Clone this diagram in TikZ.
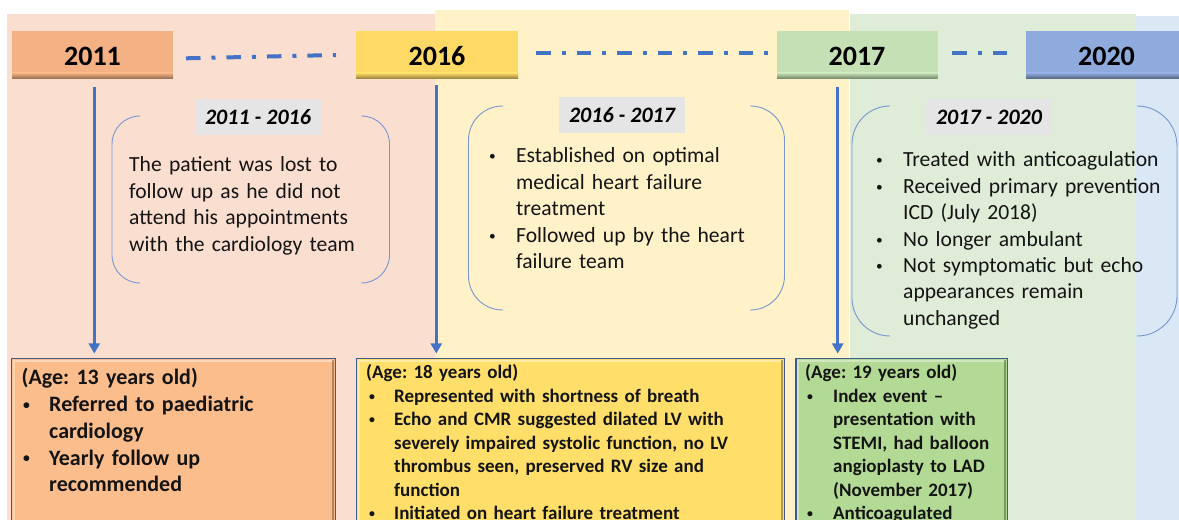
\documentclass[tikz,border=0pt]{standalone}
\usepackage{fontspec}
\setmainfont{Carlito}
\usetikzlibrary{arrows.meta}
\definecolor{bandA}{HTML}{FADFD1}
\definecolor{bandB}{HTML}{FFF1C8}
\definecolor{bandC}{HTML}{DFECD7}
\definecolor{bandD}{HTML}{DAE7F5}
\definecolor{yA}{HTML}{F4B183}
\definecolor{yAd}{HTML}{8D6A4D}
\definecolor{yB}{HTML}{FFD966}
\definecolor{yBd}{HTML}{8F7A3A}
\definecolor{yC}{HTML}{C5E0B4}
\definecolor{yCd}{HTML}{6F7F66}
\definecolor{yD}{HTML}{8FAADC}
\definecolor{yDd}{HTML}{4F6079}
\definecolor{boxA}{HTML}{FBBD8B}
\definecolor{boxB}{HTML}{FFDF69}
\definecolor{boxC}{HTML}{B3DA94}
\definecolor{blueline}{HTML}{4472C4}
\definecolor{bracket}{HTML}{7896D2}
\definecolor{graylab}{HTML}{E5E5E5}
\definecolor{boxborder}{HTML}{3F5A8E}
\definecolor{txt}{HTML}{141414}
\newcommand\bulmark{\raisebox{0.1em}{\scalebox{0.62}{•}}}
\newcommand\bulfirst[2]{\noindent\hangindent=#1\hangafter=1\makebox[#1][l]{\hspace{#2}\bulmark}}
\newcommand\bul[2]{\par\bulfirst{#1}{#2}}
\begin{document}
\frenchspacing
\begin{tikzpicture}[x=1bp,y=-1bp,
  yeartext/.style={inner sep=0, font=\fontsize{28bp}{30bp}\selectfont\bfseries, text=black},
  periodlab/.style={fill=graylab, minimum width=126bp, minimum height=36bp, inner sep=0,
    font=\fontsize{22bp}{24bp}\selectfont\bfseries\itshape, text=black},
  bracketline/.style={draw=bracket, line width=0.9bp},
  dashdot/.style={blueline, line width=4bp, dash pattern=on 14.5bp off 11bp on 4bp off 11bp},
  timearrow/.style={blueline, line width=3bp, -{Triangle[width=11bp,length=10bp]}},
  midtext/.style={anchor=base west, inner sep=0, text width=300bp, align=left,
    font=\fontsize{21.6bp}{26.4bp}\selectfont\frenchspacing, text=txt},
  bigbox/.style={anchor=base west, inner sep=0, text width=320bp, align=left,
    font=\fontsize{22bp}{26.7bp}\selectfont\bfseries\frenchspacing, text=txt},
  smallbox/.style={anchor=base west, inner sep=0, text width=420bp, align=left,
    font=\fontsize{19bp}{23.4bp}\selectfont\bfseries\frenchspacing, text=txt},
  evbox/.style={line width=1.5bp, draw=boxborder}
]
\useasboundingbox (0,0) rectangle (1179,520);
\clip (0,0) rectangle (1179,520);
\fill[white] (0,0) rectangle (1179,520);
% background bands
\fill[bandA] (7,14) rectangle (434.7,520);
\fill[bandB] (434.7,10) rectangle (849,520);
\fill[bandC] (850,14.5) rectangle (1136,520);
\fill[bandD] (1136,16) rectangle (1179,520);

% year boxes
\fill[yA] (12,31) rectangle (173,79);
\shade[top color=yA, bottom color=yAd] (12,73) rectangle (173,79);
\node[yeartext] (y2011) at (92.5,56) {2011};
\fill[yB] (356,31) rectangle (518,79);
\shade[top color=yB, bottom color=yBd] (356,73) rectangle (518,79);
\node[yeartext] (y2016) at (437,56) {2016};
\fill[yC] (777,31) rectangle (937.5,79);
\shade[top color=yC, bottom color=yCd] (777,73) rectangle (937.5,79);
\node[yeartext] (y2017) at (857,56) {2017};
\fill[yD] (1026,31) rectangle (1187,79);
\shade[top color=yD, bottom color=yDd] (1026,73) rectangle (1187,79);
\node[yeartext] (y2020) at (1106.5,56) {2020};

% dash-dot connectors
\coordinate (d1a) at (186,58.3);
\coordinate (d1b) at (336,55);
\coordinate (d2a) at (536,52.7);
\coordinate (d2b) at (768,52.7);
\coordinate (d3a) at (952,52.7);
\coordinate (d3b) at (1007,52.7);
\draw[dashdot] (d1a) -- (d1b);
\draw[dashdot] (d2a) -- (d2b);
\draw[dashdot] (d3a) -- (d3b);

% brackets
\draw[bracketline, rounded corners=28bp] (140,116) -- (112,116) -- (112,283) -- (140,283);
\draw[bracketline, rounded corners=28bp] (361.5,116) -- (389.5,116) -- (389.5,283) -- (361.5,283);
\draw[bracketline, rounded corners=34bp] (503,106) -- (468.5,106) -- (468.5,310) -- (503,310);
\draw[bracketline, rounded corners=34bp] (750,106) -- (784.5,106) -- (784.5,310) -- (750,310);
\draw[bracketline, rounded corners=38bp] (890,106) -- (852,106) -- (852,336) -- (890,336);
\draw[bracketline, rounded corners=40bp] (1137,106) -- (1177,106) -- (1177,336) -- (1137,336);

% period labels
\node[periodlab] (p1) at (258,117) {2011 - 2016};
\node[periodlab] (p2) at (622,115) {2016 - 2017};
\node[periodlab] (p3) at (989,117.5) {2017 - 2020};

% period texts
\node[midtext] (m1) at (129,172) {The patient was lost to\newline follow up as he did not\newline attend his appointments\newline with the cardiology team};
\node[midtext] (m2) at (489,163) {\bulfirst{27bp}{0bp}Established on optimal\newline medical heart failure\newline treatment\bul{27bp}{0bp}Followed up by the heart\newline failure team\par};
\node[midtext] (m3) at (876,167) {\bulfirst{27bp}{0bp}Treated with anticoagulation\bul{27bp}{0bp}Received primary prevention\newline ICD (July 2018)\bul{27bp}{0bp}No longer ambulant\bul{27bp}{0bp}Not symptomatic but echo\newline appearances remain\newline unchanged\par};

% event boxes
\fill[boxA] (11.7,358.3) rectangle (335.7,540);
\draw[white, opacity=0.4, line width=2bp] (13.8,540) -- (13.8,360.6) -- (333.5,360.6);
\draw[black, opacity=0.3, line width=2bp] (333.3,360) -- (333.3,540);
\draw[evbox] (11.7,358.3) rectangle (335.7,540);
\node[bigbox] (eA) at (21.5,385) {(Age: 13 years old)\bul{27.5bp}{1.5bp}Referred to paediatric\newline cardiology\bul{27.5bp}{1.5bp}Yearly follow up\newline recommended\par};

\fill[boxB] (356.7,358.3) rectangle (784.3,540);
\draw[white, opacity=0.4, line width=2bp] (358.8,540) -- (358.8,360.6) -- (782,360.6);
\draw[black, opacity=0.3, line width=2bp] (781.9,360) -- (781.9,540);
\draw[evbox] (356.7,358.3) rectangle (784.3,540);
\node[smallbox] (eB) at (366,379) {(Age: 18 years old)\bul{28bp}{3bp}Represented with shortness of breath\bul{28bp}{3bp}Echo and CMR suggested dilated LV with\newline severely impaired systolic function, no LV\newline thrombus seen, preserved RV size and\newline function\bul{28bp}{3bp}Initiated on heart failure treatment\par};

\fill[boxC] (796,358.3) rectangle (1007.3,540);
\draw[white, opacity=0.4, line width=2bp] (798.1,540) -- (798.1,360.6) -- (1005,360.6);
\draw[black, opacity=0.3, line width=2bp] (1004.9,360) -- (1004.9,540);
\draw[evbox] (796,358.3) rectangle (1007.3,540);
\node[smallbox] (eC) at (805,379) {(Age: 19 years old)\bul{28bp}{2bp}Index event --\newline presentation with\newline STEMI, had balloon\newline angioplasty to LAD\newline (November 2017)\bul{28bp}{2bp}Anticoagulated\par};

% timeline arrows
\coordinate (a1) at (94.3,86.7);
\coordinate (a2) at (436.3,85);
\coordinate (a3) at (837.7,86.7);
\coordinate (b1) at (94.3,353.5);
\coordinate (b2) at (436.3,353.5);
\coordinate (b3) at (837.7,353.5);
\draw[timearrow] (a1) -- (b1);
\draw[timearrow] (a2) -- (b2);
\draw[timearrow] (a3) -- (b3);
\end{tikzpicture}
\end{document}
